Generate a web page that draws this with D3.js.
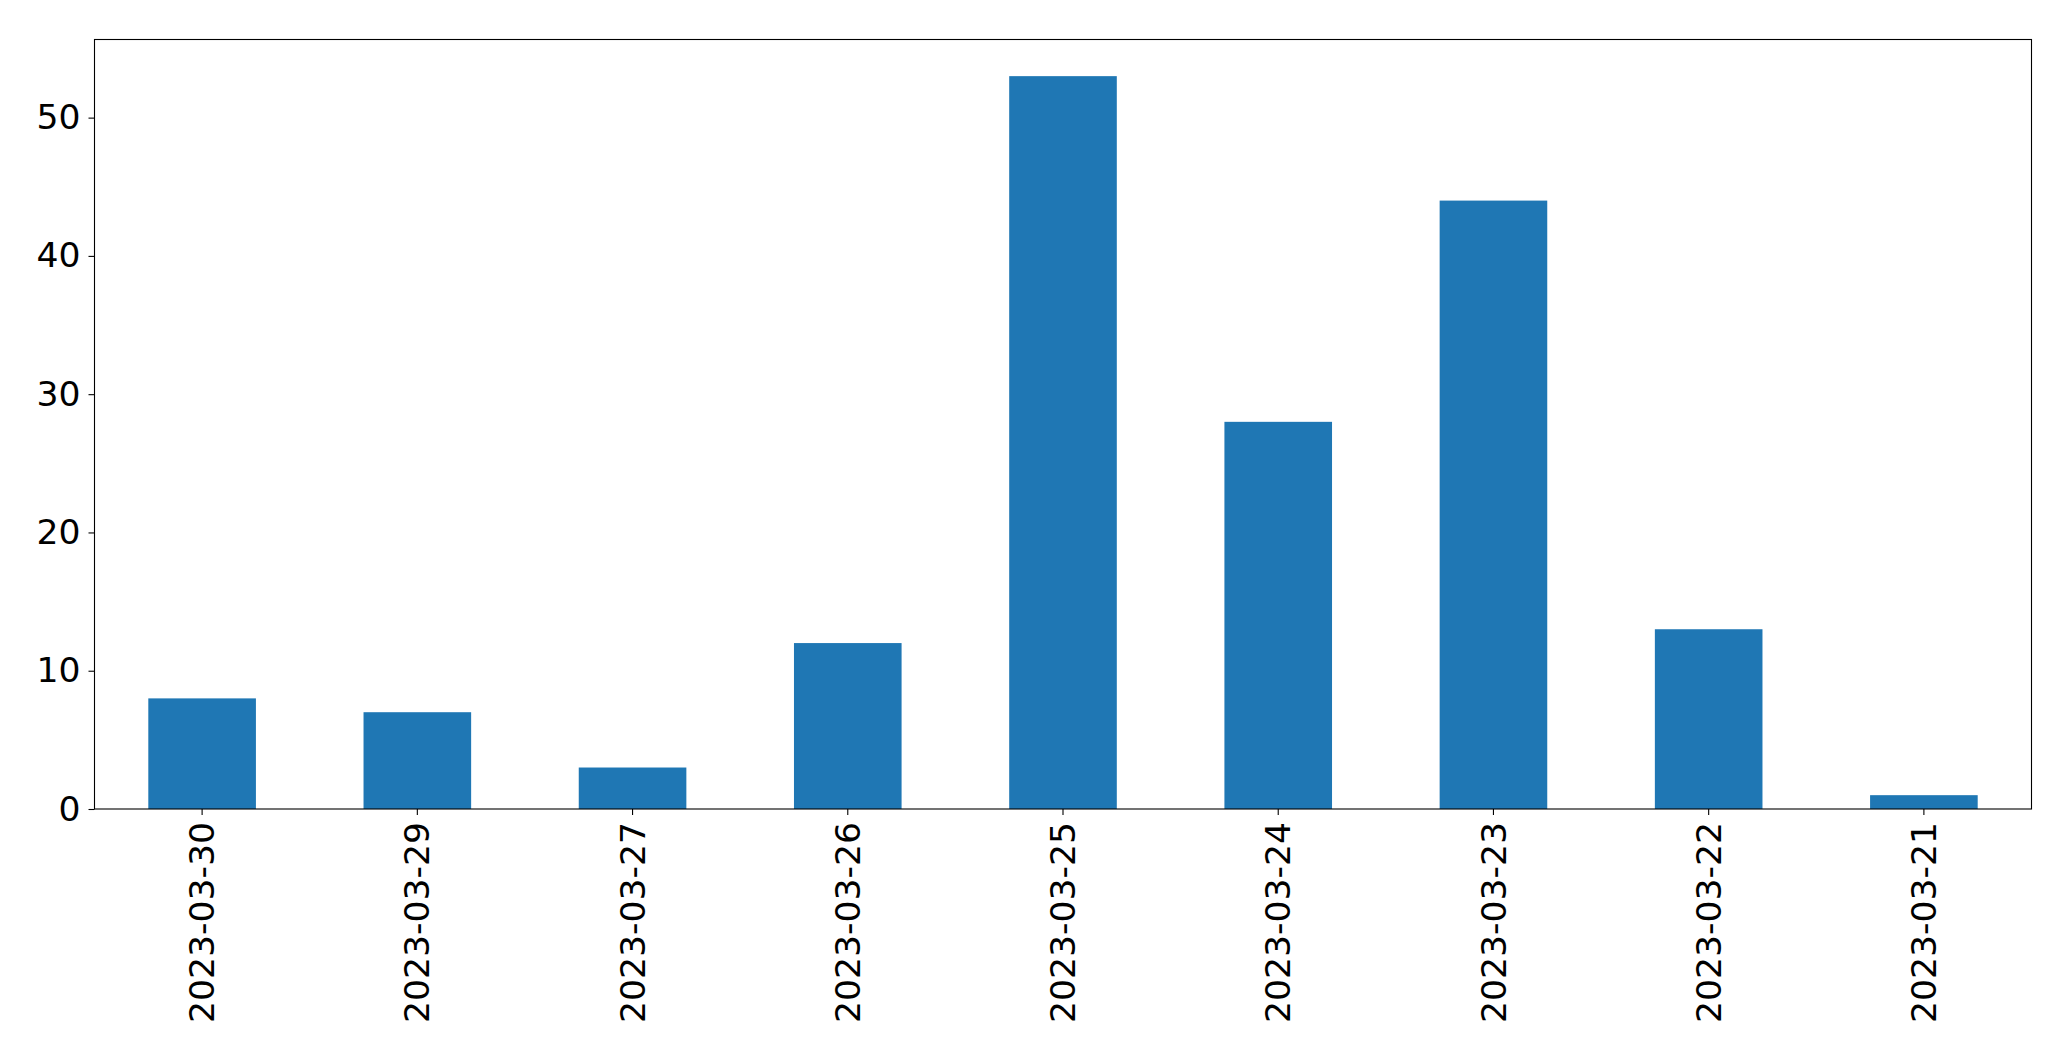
<!DOCTYPE html>
<html><head><meta charset="utf-8">
<script src="https://cdn.jsdelivr.net/npm/d3@7"></script>
<style>body{margin:0;background:#fff}svg text{font-family:"DejaVu Sans",sans-serif;fill:#000}</style>
</head><body>
<svg id="c" width="2071" height="1061"></svg>
<script>
const categories = ["2023-03-30","2023-03-29","2023-03-27","2023-03-26","2023-03-25","2023-03-24","2023-03-23","2023-03-22","2023-03-21"];
const values = [8, 7, 3, 12, 53, 28, 44, 13, 1];
const yTicks = [0, 10, 20, 30, 40, 50];

const L = 94.5, R = 2031.5, T = 39.5, B = 809;
const svg = d3.select("#c");
const x = d3.scaleBand().domain(categories).range([L, R]).paddingInner(0.5).paddingOuter(0.25);
const y = d3.scaleLinear().domain([0, d3.max(values) * 1.05]).range([B, T]);

svg.append("g").selectAll("rect").data(values).join("rect")
  .attr("x", (d, i) => x(categories[i]))
  .attr("width", x.bandwidth())
  .attr("y", d => y(d))
  .attr("height", d => B - y(d))
  .attr("fill", "#1f77b4");

const fs = "34.6px";
const ya = svg.append("g").attr("transform", `translate(${L},0)`)
  .call(d3.axisLeft(y).tickValues(yTicks).tickSize(6).tickPadding(8).tickFormat(d3.format("d")));
ya.select(".domain").remove();
ya.selectAll("text").style("font-size", fs).attr("font-family", null);
ya.selectAll("line").attr("stroke", "#000").attr("stroke-width", 1.1);

const xa = svg.append("g").attr("transform", `translate(0,${B})`)
  .call(d3.axisBottom(x).tickSize(6).tickPadding(8));
xa.select(".domain").remove();
xa.selectAll("line").attr("stroke", "#000").attr("stroke-width", 1.1);
xa.selectAll("text").style("font-size", fs).attr("font-family", null)
  .attr("transform", "rotate(-90)")
  .attr("text-anchor", "end")
  .attr("x", -(6 + 7)).attr("y", 0).attr("dy", "0.35em");

svg.append("rect").attr("x", L).attr("y", T).attr("width", R - L).attr("height", B - T)
  .attr("fill", "none").attr("stroke", "#000").attr("stroke-width", 1.1);
</script>
</body></html>
